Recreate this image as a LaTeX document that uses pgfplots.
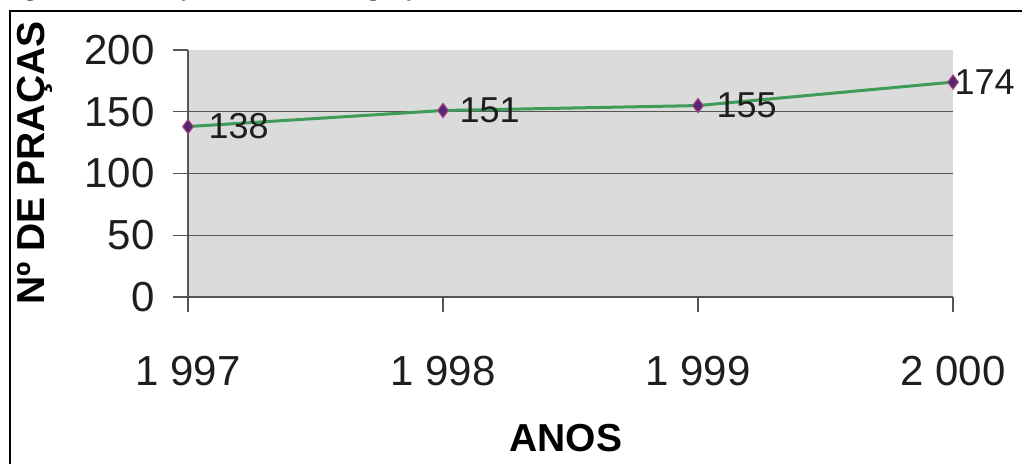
\documentclass[border=0pt]{standalone}
\usepackage{fontspec}
\setmainfont{Liberation Sans}
\newfontfamily\capfont{Liberation Serif}
\usepackage{pgfplots}
\usepackage{pgfplotstable}
\pgfplotsset{compat=1.18}

\definecolor{plotbg}{RGB}{219,219,219}
\definecolor{linegreen}{RGB}{62,156,88}
\definecolor{markfill}{RGB}{84,40,112}
\definecolor{markedge}{RGB}{175,70,130}
\definecolor{gridgray}{RGB}{85,85,85}
\definecolor{txt}{RGB}{30,30,30}

% year, number of squares, label offset
\pgfplotstableread{
year value dx
1997 138 10
1998 151 8
1999 155 9
2000 174 0.5
}\pracas

\begin{document}
\begin{tikzpicture}[x=1pt,y=1pt]
\path[use as bounding box] (0,0) rectangle (511,232);
% caption cut off at the top of the scan
\node[anchor=base west, inner sep=0pt, font=\capfont\fontsize{13}{15}\selectfont]
  at (1,234) {Figura 3 – Evolução do número de praças em Teresina};
% frame
\draw[line width=0.7pt] (5,-10) -- (5,226.5) -- (530,226.5);
\begin{axis}[
  at={(94pt,83.5pt)}, anchor=south west,
  scale only axis, width=382.5pt, height=123.5pt,
  xmin=1997, xmax=2000, ymin=0, ymax=200,
  axis x line*=bottom, axis y line*=left,
  axis line style={gridgray, line width=0.6pt, -},
  axis background/.style={fill=plotbg},
  xtick={1997,1998,1999,2000},
  xticklabels={1 997,1 998,1 999,2 000},
  ytick={0,50,100,150,200},
  extra y ticks={50,100,150},
  extra y tick labels={},
  extra y tick style={ymajorgrids=true, major tick length=0pt},
  major grid style={gridgray, line width=0.6pt},
  tick align=outside, major tick length=7.5pt,
  tick style={gridgray, line width=0.6pt},
  /pgf/number format/assume math mode=true,
  ticklabel style={font=\fontsize{21}{24}\selectfont, text=txt, inner sep=0pt},
  yticklabel style={anchor=east, xshift=-9pt},
  xticklabel style={anchor=north, yshift=-22pt},
  xlabel={ANOS},
  ylabel={Nº DE PRAÇAS},
  label style={font=\bfseries\fontsize{19.5}{22}\selectfont},
  xlabel style={at={(axis description cs:0.494,-0.571)}, anchor=center},
  ylabel style={at={(axis description cs:-0.2,0.5425)}, anchor=center},
]
\addplot[
  color=linegreen, line width=1.5pt,
  mark=diamond*, mark size=3.6pt,
  mark options={fill=markfill, draw=markedge, line width=0.5pt},
  point meta=explicit,
  visualization depends on={\thisrow{dx} \as \dx},
  nodes near coords,
  nodes near coords style={anchor=west, inner sep=0pt, xshift=\dx pt,
    font=\fontsize{18}{21}\selectfont, text=txt},
] table[x=year, y=value, meta=value] {\pracas};
\end{axis}
\end{tikzpicture}
\end{document}
